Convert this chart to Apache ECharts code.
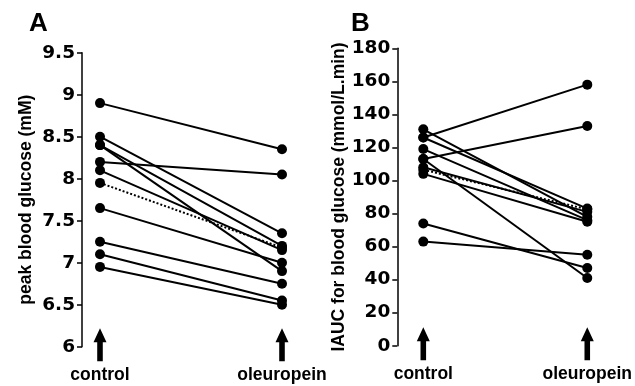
<!DOCTYPE html>
<html>
<head>
<meta charset="utf-8">
<script src="https://cdn.jsdelivr.net/npm/echarts@6/dist/echarts.min.js"></script>
<style>
html,body{margin:0;padding:0;background:#fff;}
#chart{width:635px;height:386px;}
</style>
</head>
<body>
<div id="chart"></div>
<script>
// ---- data ----
const categories = ['control', 'oleuropein'];

// Panel A: peak blood glucose (mM), one pair per subject
const peakControl    = [8.9, 8.5, 8.4, 8.4, 8.2, 8.1, 7.65, 7.25, 7.1, 6.95];
const peakOleuropein = [8.35, 7.35, 7.2, 6.9, 8.05, 7.15, 7.0, 6.75, 6.55, 6.5];
const peakMean       = [7.95, 7.18];
const peakTicks      = { min: 6, max: 9.5, interval: 0.5 };

// Panel B: IAUC for blood glucose (mmol/L.min)
const iaucControl    = [131, 126, 126, 119, 113, 113, 108, 104, 74, 63];
const iaucOleuropein = [78, 158, 83, 76, 133, 41, 81, 75, 47, 55];
const iaucMean       = [106.5, 82.5];
const iaucTicks      = { min: 0, max: 180, interval: 20 };

const panelLetters = ['A', 'B'];
const axisNames = ['peak blood glucose (mM)', 'IAUC for blood glucose (mmol/L.min)'];

// ---- styling ----
const FONT = "'Liberation Sans', Arial, Helvetica, sans-serif";
const TICKFONT = "'DejaVu Sans', 'Liberation Sans', Arial, sans-serif";
const BLACK = '#000';
const arrowPath = 'path://M7,0 L14,14 L10,14 L10,33 L4,33 L4,14 L0,14 Z';

function yAxisFor(idx, ticks, offset, nameGap) {
  return {
    type: 'value', gridIndex: idx,
    min: ticks.min, max: ticks.max, interval: ticks.interval,
    offset: offset,
    name: axisNames[idx], nameLocation: 'middle', nameGap: nameGap,
    nameTextStyle: { fontFamily: FONT, fontWeight: 'bold', fontSize: 17.5, color: BLACK },
    axisLine: { show: true, lineStyle: { color: BLACK, width: 1.5 } },
    axisTick: { show: true, inside: false, length: 5, lineStyle: { color: BLACK, width: 1.5 } },
    axisLabel: { fontFamily: TICKFONT, fontWeight: 'bold', fontSize: 18.5, color: BLACK, margin: 7 },
    splitLine: { show: false }
  };
}
function xAxisFor(idx) {
  return {
    type: 'category', gridIndex: idx, data: categories, boundaryGap: false,
    axisLine: { show: false }, axisTick: { show: false },
    axisLabel: { fontFamily: FONT, fontWeight: 'bold', fontSize: 17.5, color: BLACK, margin: 19 }
  };
}
function pairSeries(idx, ctrl, oleu) {
  return ctrl.map((c, i) => ({
    type: 'line', xAxisIndex: idx, yAxisIndex: idx,
    data: [c, oleu[i]],
    symbol: 'circle', symbolSize: 10,
    lineStyle: { color: BLACK, width: 2 },
    itemStyle: { color: BLACK, opacity: 1 },
    silent: true, animation: false, z: 3
  }));
}
function meanSeries(idx, mean) {
  return {
    type: 'line', xAxisIndex: idx, yAxisIndex: idx,
    data: mean, symbol: 'circle', symbolSize: 10,
    lineStyle: { color: BLACK, width: 2, type: [2, 2] },
    itemStyle: { color: BLACK, opacity: 1 },
    silent: true, animation: false, z: 2
  };
}
function arrowSeries(idx, base) {
  return {
    type: 'scatter', xAxisIndex: idx, yAxisIndex: idx,
    data: categories.map(c => [c, base]),
    symbol: arrowPath, symbolSize: [13, 33], symbolOffset: [0, -2],
    itemStyle: { color: BLACK, opacity: 1 }, clip: false, silent: true, animation: false
  };
}

const chart = echarts.init(document.getElementById('chart'));
chart.setOption({
  backgroundColor: '#fff',
  animation: false,
  title: [
    { text: panelLetters[0], left: 24, top: 6, textStyle: { fontFamily: FONT, fontWeight: 'bold', fontSize: 26, color: BLACK } },
    { text: panelLetters[1], left: 346, top: 6, textStyle: { fontFamily: FONT, fontWeight: 'bold', fontSize: 26, color: BLACK } }
  ],
  grid: [
    { left: 100, width: 182, top: 52.7, bottom: 39.3 },
    { left: 423.3, width: 182.4, top: 48.3, bottom: 40.3 }
  ],
  xAxis: [xAxisFor(0), xAxisFor(1)],
  yAxis: [yAxisFor(0, peakTicks, 18, 47), yAxisFor(1, iaucTicks, 26, 42)],
  series: [
    ...pairSeries(0, peakControl, peakOleuropein),
    meanSeries(0, peakMean),
    arrowSeries(0, peakTicks.min),
    ...pairSeries(1, iaucControl, iaucOleuropein),
    meanSeries(1, iaucMean),
    arrowSeries(1, iaucTicks.min)
  ]
});
</script>
</body>
</html>
